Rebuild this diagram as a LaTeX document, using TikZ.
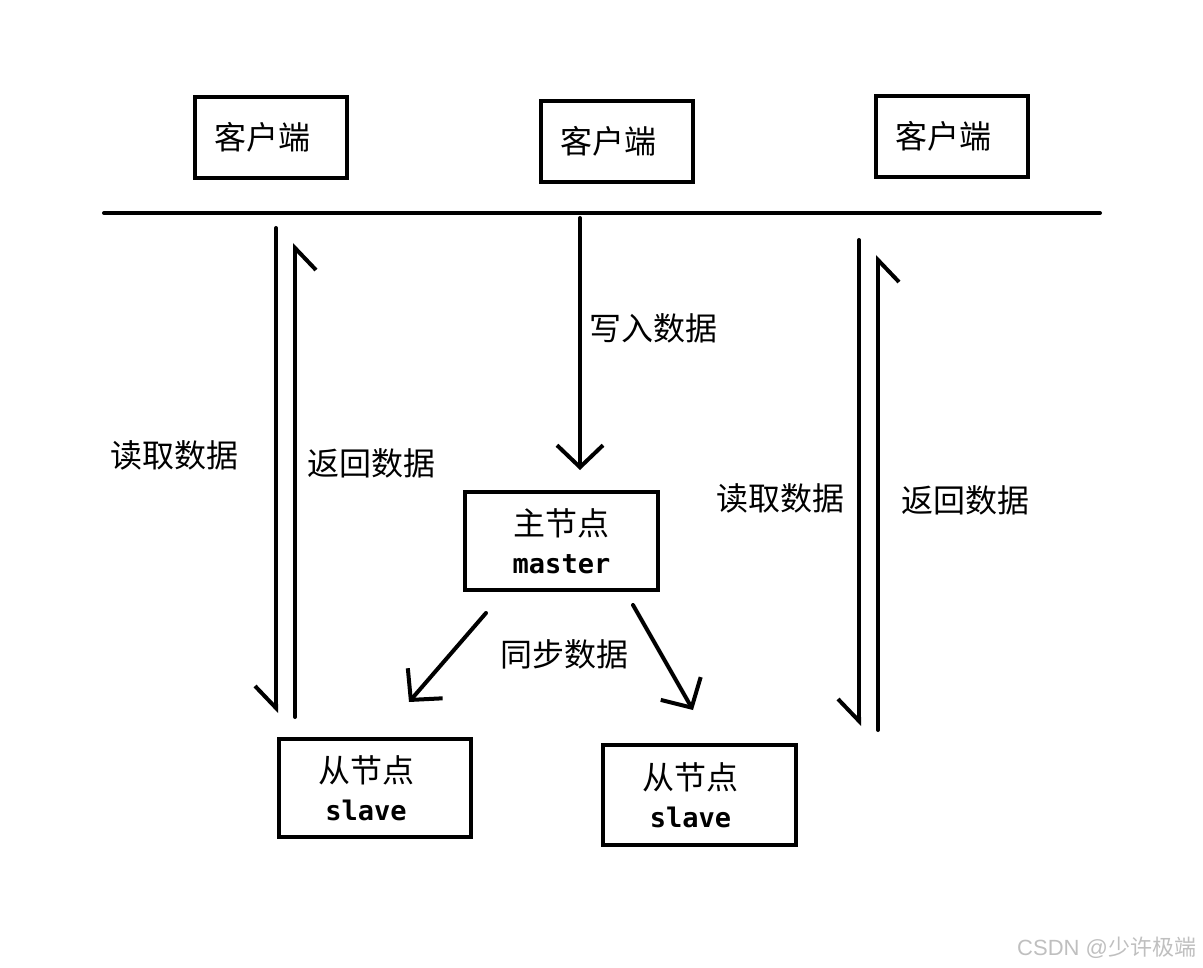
\documentclass[tikz,border=0pt]{standalone}
\usepackage{fontspec}
\newfontfamily\cjk{Noto Sans CJK SC}
\newfontfamily\monob{DejaVu Sans Mono Bold}
\newfontfamily\wmfont{Liberation Sans}
\usetikzlibrary{arrows.meta}
\newcommand{\sh}{\hspace*{18pt}}
\begin{document}
\begin{tikzpicture}[x=1pt,y=-1pt,line width=4pt,line cap=round,line join=round,
  box/.style={draw,rectangle,line width=4pt,line cap=rect,line join=miter,inner sep=0pt,align=center,font=\cjk\fontsize{32}{42}\selectfont},
  lbl/.style={font=\cjk\fontsize{32}{36}\selectfont,inner sep=0pt},
  hb/.style={-{Straight Barb[harpoon,swap,length=22pt,width=42pt]}},
  fb/.style={-{Straight Barb[length=22pt,width=46pt]}}]
\useasboundingbox (0,0) rectangle (1203,968);
% clients
\node[box,minimum width=152pt,minimum height=81pt] (c1) at (271,137.5) {客户端\sh};
\node[box,minimum width=152pt,minimum height=81pt] (c2) at (617,141.5) {客户端\sh};
\node[box,minimum width=152pt,minimum height=81pt] (c3) at (952,136.5) {客户端\sh};
% bus
\coordinate (busL) at (104,213);
\coordinate (busR) at (1100,213);
\draw (busL) -- (busR);
% master and slaves
\node[box,minimum width=193pt,minimum height=98pt] (m) at (561.5,541) {主节点\\[-4pt]{\monob\fontsize{27}{30}\selectfont master}};
\node[box,minimum width=192pt,minimum height=98pt] (s1) at (375,788) {从节点\sh\\[-4pt]{\monob\fontsize{27}{30}\selectfont slave}\sh};
\node[box,minimum width=193pt,minimum height=100pt] (s2) at (699.5,795) {从节点\sh\\[-4pt]{\monob\fontsize{27}{30}\selectfont slave}\sh};
% arrow endpoints
\coordinate (rdLs) at (276,228);  \coordinate (rdLe) at (276,713);
\coordinate (rtLs) at (295,717);  \coordinate (rtLe) at (295,243);
\coordinate (wrs) at (580,218);   \coordinate (wre) at (580,470);
\coordinate (syLs) at (486,613);  \coordinate (syLe) at (409,702);
\coordinate (syRs) at (633,605);  \coordinate (syRe) at (693,710);
\coordinate (rdRs) at (859,240);  \coordinate (rdRe) at (859,726);
\coordinate (rtRs) at (878,730);  \coordinate (rtRe) at (878,255);
\draw[hb] (rdLs) -- (rdLe);
\draw[hb] (rtLs) -- (rtLe);
\draw[fb] (wrs) -- (wre);
\draw[fb] (syLs) -- (syLe);
\draw[fb] (syRs) -- (syRe);
\draw[hb] (rdRs) -- (rdRe);
\draw[hb] (rtRs) -- (rtRe);
% labels
\node[lbl] (l1) at (174,455) {读取数据};
\node[lbl] (l2) at (371,463) {返回数据};
\node[lbl] (l3) at (653,328) {写入数据};
\node[lbl] (l4) at (564,654) {同步数据};
\node[lbl] (l5) at (780,498) {读取数据};
\node[lbl] (l6) at (965,500) {返回数据};
% watermark
\node[anchor=east,inner sep=0pt,text=black!25,font=\fontsize{22}{24}\selectfont] (wm) at (1198,948) {\wmfont CSDN @\cjk 少许极端};
\end{tikzpicture}
\end{document}
